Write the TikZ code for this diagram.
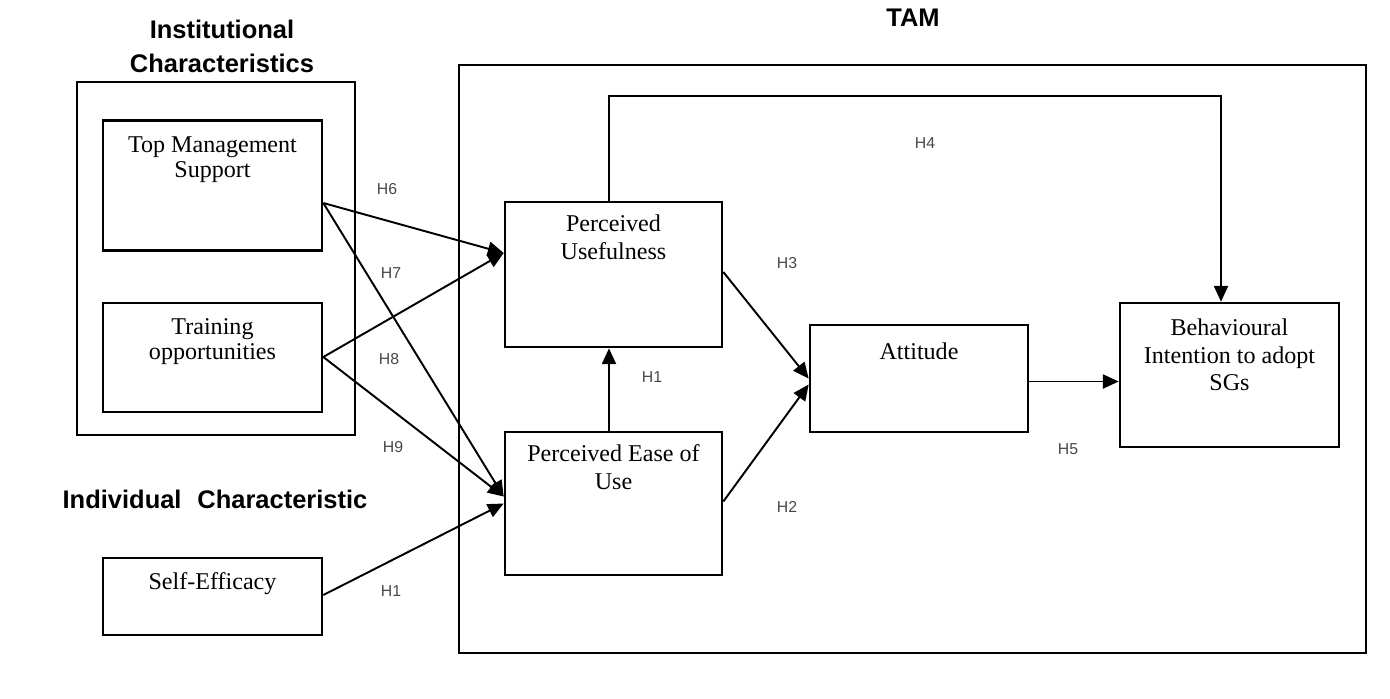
\documentclass[tikz,border=0pt]{standalone}
\usepackage{fontspec}
\setmainfont{Liberation Serif}
\newfontfamily\arialf{Liberation Sans}
\usetikzlibrary{arrows.meta,calc}
\begin{document}
\begin{tikzpicture}[x=0.02cm,y=-0.02cm,
  bx/.style 2 args={draw,line width=1.5pt,inner sep=0,minimum width=#1*0.02cm,minimum height=#2*0.02cm},
  txt/.style={anchor=north,inner sep=0,align=center,font=\fontsize{13.7}{14.5}\selectfont},
  txtb/.style={anchor=north,inner sep=0,align=center,font=\fontsize{13.7}{15.8}\selectfont},
  ttl/.style={anchor=north,inner sep=0,align=center,font=\arialf\bfseries\fontsize{14.5}{19.3}\selectfont},
  hl/.style={inner sep=0,text=black!72,font=\arialf\fontsize{9}{10}\selectfont},
  arr/.style={line width=1.1pt,-{Triangle[length=9pt,width=8pt]}}]
\useasboundingbox (0,0) rectangle (1390,698);
% boxes
\node[bx={278}{353}] (inst) at (216,258.5) {};
\node[bx={219}{130}] (tms) at (212.5,185.5) {};
\node[bx={219}{109}] (trn) at (212.5,357.5) {};
\node[bx={219}{77}] (se) at (212.5,596.5) {};
\node[bx={907}{588}] (tam) at (912.5,359) {};
\node[bx={217}{145}] (pu) at (613.5,274.5) {};
\node[bx={217}{143}] (peou) at (613.5,503.5) {};
\node[bx={218}{107}] (att) at (919,378.5) {};
\node[bx={219}{144}] (bi) at (1229.5,375) {};
% titles
\node[ttl] (instT) at (222,20) {Institutional\\Characteristics};
\node[ttl] (indT) at (215,490) {Individual\hspace{5pt} Characteristic};
\node[ttl] (tamT) at (913,8.5) {TAM};
% box texts
\node[txt] (tmsT) at ($(tms.north)+(0,17)$) {Top Management\\Support};
\node[txt] (trnT) at ($(trn.north)+(0,16.5)$) {Training\\opportunities};
\node[txt] (seT) at ($(se.north)+(0,15.5)$) {Self-Efficacy};
\node[txtb] (puT) at ($(pu.north)+(0,13.5)$) {Perceived\\Usefulness};
\node[txtb] (peouT) at ($(peou.north)+(0,13.5)$) {Perceived Ease of\\Use};
\node[txtb] (attT) at ($(att.north)+(0,18.5)$) {Attitude};
\node[txtb] (biT) at ($(bi.north)+(0,16.5)$) {Behavioural\\Intention to adopt\\SGs};
% connectors
\draw[arr] ($(tms.east)+(0,17.5)$) -- ($(pu.west)+(0,-21.5)$);
\draw[arr] ($(tms.east)+(0,17.5)$) -- ($(peou.west)+(0,-7)$);
\draw[arr] ($(trn.east)+(0,-0.5)$) -- ($(pu.west)+(0,-21.5)$);
\draw[arr] ($(trn.east)+(0,-0.5)$) -- ($(peou.west)+(0,-7)$);
\draw[arr] ($(se.east)+(0,-1.5)$) -- ($(peou.west)+(0,0)$);
\draw[arr] ($(pu.east)+(0,-2.5)$) -- ($(att.west)+(0,0)$);
\draw[arr] ($(peou.east)+(0,-2)$) -- ($(att.west)+(0,6)$);
\draw[arr] ($(att.east)+(0,3)$) -- ($(bi.west)+(0,6.5)$);
\draw[arr] ($(peou.north)+(-4.5,0)$) -- ($(pu.south)+(-4.5,0)$);
\draw[arr] ($(pu.north)+(-4.5,0)$) -- ++(0,-104.5) -| ($(bi.north)+(-8.5,0)$);
% hypothesis labels
\node[hl] (h6) at (387,189) {H6};
\node[hl] (h7) at (391,273) {H7};
\node[hl] (h8) at (389,359) {H8};
\node[hl] (h9) at (393,447) {H9};
\node[hl] (h1a) at (391,591) {H1};
\node[hl] (h1b) at (652,377) {H1};
\node[hl] (h3) at (787,263) {H3};
\node[hl] (h2) at (787,507) {H2};
\node[hl] (h4) at (925,143) {H4};
\node[hl] (h5) at (1068,449) {H5};
\end{tikzpicture}
\end{document}
